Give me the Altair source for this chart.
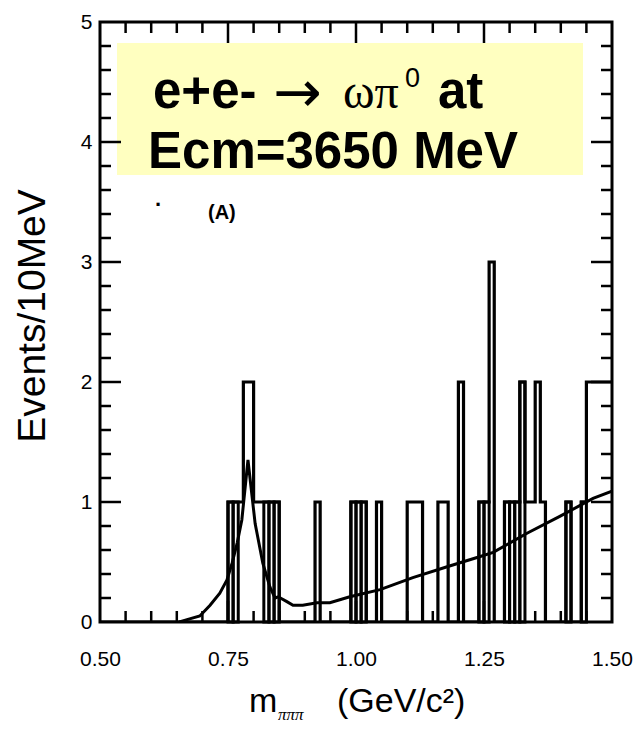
import altair as alt
import pandas as pd

# Filled 10 MeV bins: lower edge (GeV/c^2) and number of events
bin_lo = [0.75, 0.76, 0.77, 0.78, 0.79, 0.80, 0.81, 0.82, 0.83, 0.84,
          0.92, 0.99, 1.00, 1.01, 1.04, 1.10, 1.11, 1.12, 1.16, 1.17,
          1.20, 1.24, 1.25, 1.26, 1.29, 1.30, 1.31, 1.32, 1.33, 1.34,
          1.35, 1.36, 1.41, 1.44, 1.45, 1.46, 1.47, 1.48, 1.49]
bin_counts = [1, 1, 1, 2, 2, 1, 1, 1, 1, 1,
              1, 1, 1, 1, 1, 1, 1, 1, 1, 1,
              2, 1, 1, 3, 1, 1, 1, 2, 1, 1,
              2, 1, 1, 1, 2, 2, 2, 2, 2]

# Bins drawn as separate boxes (overlaid sub-selection)
sel_lo = [0.75, 0.76, 0.82, 0.83, 0.84, 0.99, 1.00, 1.01,
          1.24, 1.25, 1.29, 1.30, 1.31, 1.32, 1.41, 1.44]

# Fit: omega peak on a rising background
fit_m = [0.655, 0.670, 0.695, 0.715, 0.734, 0.748, 0.758, 0.768, 0.777, 0.789,
         0.803, 0.818, 0.832, 0.842, 0.848, 0.865, 0.877, 0.896, 0.924, 0.949,
         0.988, 1.047, 1.111, 1.178, 1.238, 1.268, 1.334, 1.398, 1.463, 1.500]
fit_y = [0.00, 0.02, 0.05, 0.14, 0.24, 0.35, 0.49, 0.66, 0.85, 1.35,
         0.82, 0.49, 0.29, 0.20, 0.21, 0.17, 0.14, 0.14, 0.16, 0.16,
         0.21, 0.27, 0.37, 0.46, 0.54, 0.58, 0.74, 0.88, 1.03, 1.09]

x_labels = [0.50, 0.75, 1.00, 1.25, 1.50]
y_labels = [0, 1, 2, 3, 4, 5]
x_minor = [0.55, 0.60, 0.65, 0.70, 0.80, 0.85, 0.90, 0.95, 1.05, 1.10,
           1.15, 1.20, 1.30, 1.35, 1.40, 1.45]
x_major = [0.75, 1.00, 1.25]
y_minor = [0.2, 0.4, 0.6, 0.8, 1.2, 1.4, 1.6, 1.8, 2.2, 2.4, 2.6, 2.8,
           3.2, 3.4, 3.6, 3.8, 4.2, 4.4, 4.6, 4.8]
y_major = [1, 2, 3, 4]

W, H = 512, 600
BIN = 0.01

# full 100-bin histogram as a step outline
counts = {round(lo, 2): c for lo, c in zip(bin_lo, bin_counts)}
edges = [round(0.50 + BIN * k, 2) for k in range(100)]
step_rows = [{"m": e, "n": counts.get(e, 0)} for e in edges]
step_rows.append({"m": 1.50, "n": counts.get(1.49, 0)})
step_df = pd.DataFrame(step_rows)

sel_df = pd.DataFrame({
    "lo": sel_lo,
    "hi": [round(v + BIN, 2) for v in sel_lo],
    "n": [counts[round(v, 2)] for v in sel_lo],
})
fit_df = pd.DataFrame({"m": fit_m, "y": fit_y})

xs = alt.Scale(domain=[0.5, 1.5], nice=False, zero=False)
ys = alt.Scale(domain=[0, 5], nice=False)

x_axis = alt.Axis(values=x_labels, format=".2f", ticks=False, domain=False,
                  grid=False, title=None, labelFont="Liberation Sans",
                  labelFontSize=21, labelColor="black", labelPadding=26,
                  labelFlush=False)
y_axis = alt.Axis(values=y_labels, format="d", ticks=False, domain=False,
                  grid=False, title=None, labelFont="Liberation Sans",
                  labelFontSize=21, labelColor="black", labelPadding=8,
                  labelFlush=False)

one = pd.DataFrame({"k": [0]})

# yellow caption box
box = alt.Chart(one).mark_rect(color="#FFFFC0").encode(
    x=alt.value(17), x2=alt.value(483), y=alt.value(21), y2=alt.value(153))

# frame ticks pointing inward
def xticks(vals, length):
    d = pd.DataFrame({"m": vals})
    bottom = alt.Chart(d).mark_rule(color="black", strokeWidth=2.5).encode(
        x=alt.X("m:Q", scale=xs, axis=x_axis),
        y=alt.value(H), y2=alt.value(H - length))
    top = alt.Chart(d).mark_rule(color="black", strokeWidth=2.5).encode(
        x=alt.X("m:Q", scale=xs),
        y=alt.value(0), y2=alt.value(length))
    return [bottom, top]

def yticks(vals, length):
    d = pd.DataFrame({"v": vals})
    left = alt.Chart(d).mark_rule(color="black", strokeWidth=2.5).encode(
        y=alt.Y("v:Q", scale=ys, axis=y_axis),
        x=alt.value(0), x2=alt.value(length))
    right = alt.Chart(d).mark_rule(color="black", strokeWidth=2.5).encode(
        y=alt.Y("v:Q", scale=ys),
        x=alt.value(W), x2=alt.value(W - length))
    return [left, right]

tick_layers = (xticks(x_minor, 11) + xticks(x_major, 21)
               + yticks(y_minor, 11) + yticks(y_major, 21))

sel_boxes = alt.Chart(sel_df).mark_rect(
    fillOpacity=0, stroke="black", strokeWidth=3).encode(
    x=alt.X("lo:Q", scale=xs), x2="hi:Q",
    y=alt.Y("n:Q", scale=ys), y2=alt.datum(0))

hist = alt.Chart(step_df).mark_line(
    interpolate="step-after", color="black", strokeWidth=3.2, clip=True).encode(
    x=alt.X("m:Q", scale=xs), y=alt.Y("n:Q", scale=ys))

fit = alt.Chart(fit_df).mark_line(color="black", strokeWidth=3, clip=True).encode(
    x=alt.X("m:Q", scale=xs), y=alt.Y("y:Q", scale=ys))


def label(text, x, y, size, font="Liberation Sans", weight="normal",
          style="normal", angle=0, align="left", baseline="alphabetic"):
    return alt.Chart(one).mark_text(
        text=text, font=font, fontSize=size, fontWeight=weight,
        fontStyle=style, angle=angle, align=align, baseline=baseline,
        color="black").encode(x=alt.value(x), y=alt.value(y))

CAP = "Liberation Sans"
texts = [
    label("e+e-", 53, 86, 51, font=CAP, weight="bold"),
    label("\u2192", 173, 90, 58, font="DejaVu Sans"),
    label("\u03c9\u03c0", 243, 86, 48, font="Liberation Serif"),
    label("0", 305, 65, 27, font="Liberation Sans"),
    label("at", 338, 86, 51, font=CAP, weight="bold"),
    label("Ecm=3650 MeV", 48, 146, 51, font=CAP, weight="bold"),
    label("(A)", 108, 197, 20, weight="bold"),
    label("\u00b7", 55, 190, 22, weight="bold"),
    label("m", 149, 690, 34),
    label("\u03c0\u03c0\u03c0", 178, 698, 17, font="Liberation Serif", style="italic"),
    label("(GeV/c\u00b2)", 237, 690, 34),
    label("Events/10MeV", -67, 294, 39, angle=270, align="center",
          baseline="middle"),
]

chart = alt.layer(box, *tick_layers, sel_boxes, hist, fit, *texts).properties(
    width=W, height=H,
    padding={"left": 100, "top": 22, "right": 28, "bottom": 119},
    autosize=alt.AutoSizeParams(type="none"),
).configure_view(stroke="black", strokeWidth=3)

chart.save("out.html", embed_options={"renderer": "svg", "actions": False})
